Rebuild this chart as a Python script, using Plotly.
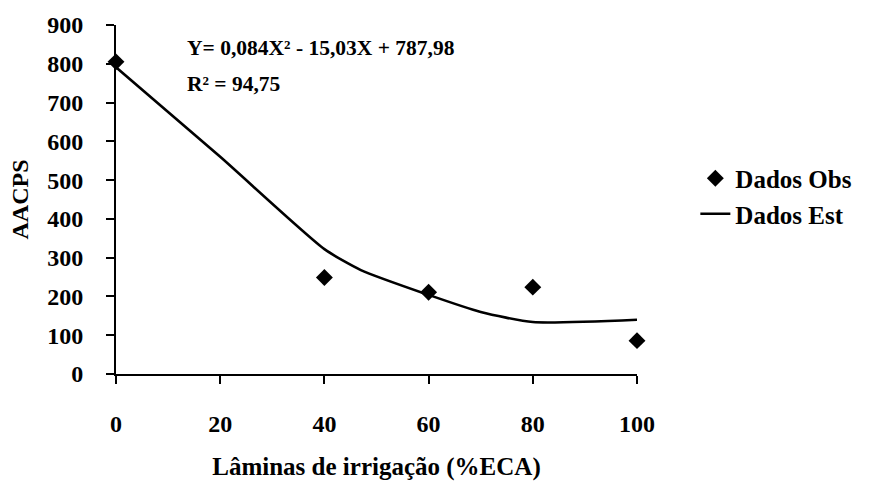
import plotly.graph_objects as go

# Irrigation depth levels (%ECA) and observed AACPS
laminas_obs = [0, 40, 60, 80, 100]
aacps_obs = [805, 249, 211, 224, 86]

# Fitted (estimated) curve values
laminas_est = [0, 20, 40, 47, 60, 70, 80, 100]
aacps_est = [791, 560, 322, 268, 204, 160, 134, 140]

x_ticks = [0, 20, 40, 60, 80, 100]
y_ticks = [0, 100, 200, 300, 400, 500, 600, 700, 800, 900]

FONT = "Liberation Serif"
TXT = dict(family=FONT, size=24, color="black", weight="bold")

ML, MR, MT, MB = 116, 233, 21, 109
W, H = 870, 488

fig = go.Figure()
fig.add_trace(go.Scatter(
    x=laminas_obs, y=aacps_obs, mode="markers", name="Dados Obs",
    marker=dict(symbol="diamond", size=13, color="black"),
    cliponaxis=False,
))
fig.add_trace(go.Scatter(
    x=laminas_est, y=aacps_est, mode="lines", name="Dados Est",
    line=dict(color="black", width=2.6, shape="spline", smoothing=0.6),
    cliponaxis=False,
))

fig.update_layout(
    width=W, height=H,
    margin=dict(l=ML, r=MR, t=MT, b=MB),
    paper_bgcolor="white", plot_bgcolor="white",
    font=TXT,
    showlegend=True,
    legend=dict(x=1.112, y=0.51, xanchor="left", yanchor="middle",
                font=dict(family=FONT, size=25, color="black", weight="bold"),
                bgcolor="rgba(0,0,0,0)", tracegroupgap=0, itemwidth=30),
    xaxis=dict(
        range=[0, 100], tickvals=x_ticks, ticktext=[str(v) for v in x_ticks],
        showgrid=False, zeroline=False, showline=True, linecolor="black", linewidth=2,
        ticks="outside", ticklen=8, tickwidth=2, tickcolor="black",
        ticklabelstandoff=19,
        tickfont=TXT,
        title=dict(text="Lâminas de irrigação (%ECA)", standoff=22,
                   font=dict(family=FONT, size=25, color="black", weight="bold")),
    ),
    yaxis=dict(
        range=[0, 900], tickvals=y_ticks, ticktext=[str(v) for v in y_ticks],
        showgrid=False, zeroline=False, showline=True, linecolor="black", linewidth=2,
        ticks="outside", ticklen=8, tickwidth=2, tickcolor="black",
        ticklabelstandoff=18,
        tickfont=TXT,
        title=dict(text="AACPS", standoff=12, font=TXT),
    ),
)

# Equation and R² placed in pixel terms relative to the plot area
plot_w = W - ML - MR
plot_h = H - MT - MB


def px_to_paper(px, py):
    return (px - ML) / plot_w, 1 - (py - MT) / plot_h


EQ_FONT = dict(family=FONT, size=21.5, color="black", weight="bold")
ex, ey = px_to_paper(185, 45)
rx, ry = px_to_paper(185, 82)
fig.add_annotation(x=ex, y=ey, xref="paper", yref="paper", showarrow=False,
                   text="Y= 0,084X² - 15,03X + 787,98", xanchor="left", yanchor="middle",
                   font=EQ_FONT)
fig.add_annotation(x=rx, y=ry, xref="paper", yref="paper", showarrow=False,
                   text="R² = 94,75", xanchor="left", yanchor="middle",
                   font=EQ_FONT)

fig.write_html("out.html")
